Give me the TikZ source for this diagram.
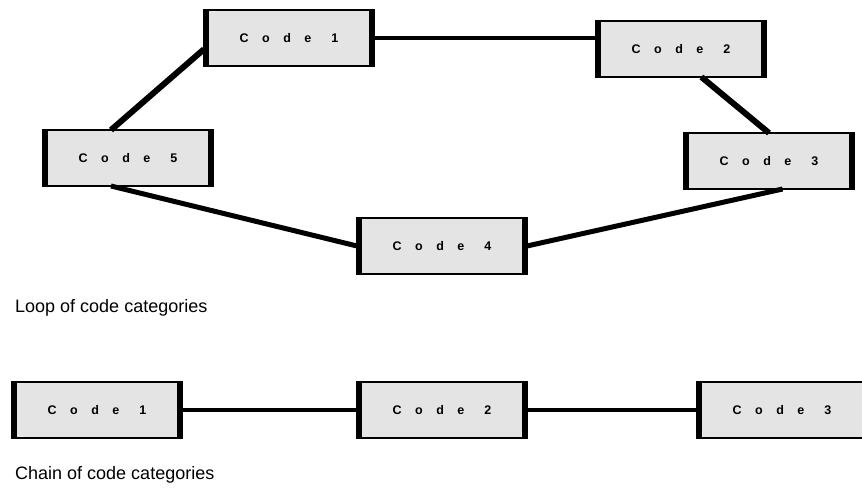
\documentclass[tikz,border=0pt]{standalone}
\usepackage{fontspec}
\setmainfont{Liberation Sans}
\usetikzlibrary{calc}
\definecolor{boxgray}{HTML}{E4E4E4}

\newcommand{\codetxt}[1]{C\hspace{13.5pt}o\hspace{13.5pt}d\hspace{13.5pt}e\hspace{20pt}#1}

\tikzset{
  codebox/.style={draw, fill=boxgray, line width=1.5pt, minimum width=170pt,
    minimum height=56pt, inner sep=0pt, outer sep=0pt,
    font=\fontsize{12.5}{14}\selectfont\bfseries},
  caption/.style={anchor=base west, font=\fontsize{18}{21}\selectfont, inner sep=0pt}
}

\begin{document}
\begin{tikzpicture}[x=1pt,y=-1pt]
\useasboundingbox (0,0) rectangle (862,496);

% loop
\node [codebox] (c1) at (289,38) {\codetxt{1}};
\node [codebox] (c2) at (681,49) {\codetxt{2}};
\node [codebox] (c5) at (128,158) {\codetxt{5}};
\node [codebox] (c3) at (769,161) {\codetxt{3}};
\node [codebox] (c4) at (442,246) {\codetxt{4}};
\node [caption] (loop) at (15,312) {Loop of code categories};

% chain
\node [codebox] (k1) at (97,410) {\codetxt{1}};
\node [codebox] (k2) at (442,410) {\codetxt{2}};
\node [codebox] (k3) at (782,410) {\codetxt{3}};
\node [caption] (chain) at (15,479) {Chain of code categories};

% thick side bars
\foreach \n in {c1,c2,c3,c4,c5,k1,k2,k3}{
  \draw [line width=5pt] ([xshift=2.5pt]\n.north west) -- ([xshift=2.5pt]\n.south west);
  \draw [line width=5pt] ([xshift=-2.5pt]\n.north east) -- ([xshift=-2.5pt]\n.south east);
}

\draw [line width=4pt] (c1.east) -- (c1.east -| c2.west);
\draw [line width=6pt] ($(c5.north west)!0.4!(c5.north east)$) -- ($(c1.north west)!0.7!(c1.south west)$);
\draw [line width=6pt] ($(c2.south west)!0.62!(c2.south east)$) -- (c3.north);
\draw [line width=5pt] ($(c5.south west)!0.4!(c5.south east)$) -- (c4.west);
\draw [line width=5pt] (c4.east) -- ($(c3.south west)!0.58!(c3.south east)$);

\draw [line width=4pt] (k1) -- (k2);
\draw [line width=4pt] (k2) -- (k3);
\end{tikzpicture}
\end{document}
